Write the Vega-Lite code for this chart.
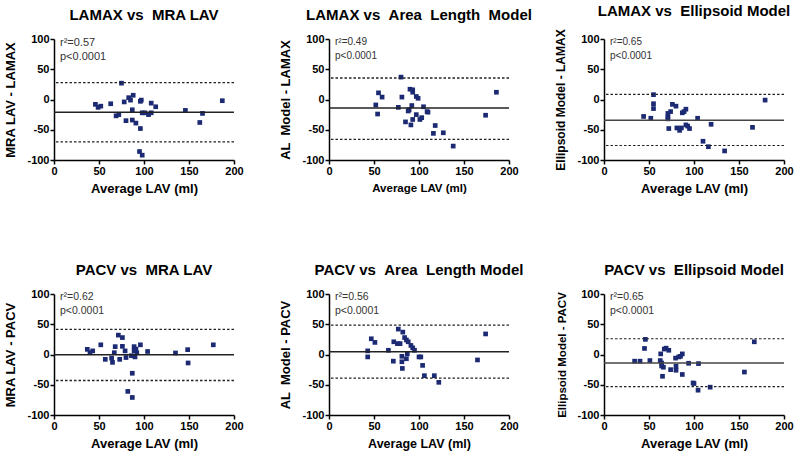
{
  "$schema": "https://vega.github.io/schema/vega-lite/v6.json",
  "padding": {"left": 4, "top": 3, "right": 5, "bottom": 5},
  "datasets": {
    "points": [
      {"p":1,"avg":46,"diff":-8},{"p":1,"avg":49,"diff":-13},{"p":1,"avg":52,"diff":-11},{"p":1,"avg":63,"diff":-7},{"p":1,"avg":69,"diff":-27},{"p":1,"avg":72,"diff":-25},{"p":1,"avg":75,"diff":27},{"p":1,"avg":78,"diff":-4},{"p":1,"avg":80,"diff":-35},{"p":1,"avg":83,"diff":3},{"p":1,"avg":85,"diff":-1},{"p":1,"avg":87,"diff":-34},{"p":1,"avg":87,"diff":-17},{"p":1,"avg":88,"diff":7},{"p":1,"avg":91,"diff":-39},{"p":1,"avg":96,"diff":-48},{"p":1,"avg":96,"diff":-3},{"p":1,"avg":97,"diff":-1},{"p":1,"avg":98,"diff":-22},{"p":1,"avg":95,"diff":-86},{"p":1,"avg":98,"diff":-92},{"p":1,"avg":101,"diff":-22},{"p":1,"avg":105,"diff":-25},{"p":1,"avg":108,"diff":-22},{"p":1,"avg":108,"diff":-6},{"p":1,"avg":113,"diff":-12},{"p":1,"avg":146,"diff":-18},{"p":1,"avg":162,"diff":-38},{"p":1,"avg":165,"diff":-23},{"p":1,"avg":187,"diff":-2},
      {"p":2,"avg":52,"diff":-9},{"p":2,"avg":54,"diff":-24},{"p":2,"avg":55,"diff":11},{"p":2,"avg":59,"diff":4},{"p":2,"avg":77,"diff":-13},{"p":2,"avg":80,"diff":37},{"p":2,"avg":81,"diff":4},{"p":2,"avg":85,"diff":-37},{"p":2,"avg":88,"diff":-19},{"p":2,"avg":89,"diff":-17},{"p":2,"avg":90,"diff":17},{"p":2,"avg":91,"diff":-42},{"p":2,"avg":92,"diff":-10},{"p":2,"avg":93,"diff":16},{"p":2,"avg":93,"diff":12},{"p":2,"avg":93,"diff":-33},{"p":2,"avg":97,"diff":-25},{"p":2,"avg":97,"diff":5},{"p":2,"avg":99,"diff":2},{"p":2,"avg":101,"diff":-33},{"p":2,"avg":103,"diff":-30},{"p":2,"avg":105,"diff":-12},{"p":2,"avg":109,"diff":-20},{"p":2,"avg":110,"diff":-21},{"p":2,"avg":118,"diff":-43},{"p":2,"avg":116,"diff":-56},{"p":2,"avg":127,"diff":-55},{"p":2,"avg":138,"diff":-77},{"p":2,"avg":174,"diff":-26},{"p":2,"avg":186,"diff":12},
      {"p":3,"avg":44,"diff":-28},{"p":3,"avg":52,"diff":-31},{"p":3,"avg":55,"diff":8},{"p":3,"avg":55,"diff":-7},{"p":3,"avg":55,"diff":-15},{"p":3,"avg":71,"diff":-23},{"p":3,"avg":71,"diff":-29},{"p":3,"avg":71,"diff":-32},{"p":3,"avg":72,"diff":-48},{"p":3,"avg":74,"diff":-20},{"p":3,"avg":76,"diff":-8},{"p":3,"avg":80,"diff":-11},{"p":3,"avg":81,"diff":-47},{"p":3,"avg":84,"diff":-51},{"p":3,"avg":86,"diff":-47},{"p":3,"avg":87,"diff":-22},{"p":3,"avg":89,"diff":-20},{"p":3,"avg":91,"diff":-16},{"p":3,"avg":91,"diff":-42},{"p":3,"avg":93,"diff":-44},{"p":3,"avg":95,"diff":-48},{"p":3,"avg":104,"diff":-31},{"p":3,"avg":119,"diff":-41},{"p":3,"avg":110,"diff":-69},{"p":3,"avg":116,"diff":-78},{"p":3,"avg":134,"diff":-85},{"p":3,"avg":165,"diff":-46},{"p":3,"avg":179,"diff":-1},
      {"p":4,"avg":37,"diff":8.5},{"p":4,"avg":40,"diff":3},{"p":4,"avg":43,"diff":6},{"p":4,"avg":52,"diff":16},{"p":4,"avg":57,"diff":-8},{"p":4,"avg":64,"diff":-6},{"p":4,"avg":65,"diff":-13},{"p":4,"avg":67,"diff":3},{"p":4,"avg":68,"diff":13},{"p":4,"avg":71.5,"diff":32},{"p":4,"avg":73,"diff":-8},{"p":4,"avg":76,"diff":28},{"p":4,"avg":76,"diff":13.5},{"p":4,"avg":79,"diff":6},{"p":4,"avg":80,"diff":-5},{"p":4,"avg":82,"diff":-61},{"p":4,"avg":86,"diff":-2},{"p":4,"avg":87,"diff":-71},{"p":4,"avg":87,"diff":-31},{"p":4,"avg":89,"diff":13},{"p":4,"avg":89,"diff":6},{"p":4,"avg":91,"diff":9},{"p":4,"avg":90,"diff":-4},{"p":4,"avg":92,"diff":3},{"p":4,"avg":96,"diff":16},{"p":4,"avg":104,"diff":5},{"p":4,"avg":135,"diff":2.5},{"p":4,"avg":148.5,"diff":8},{"p":4,"avg":149,"diff":-14},{"p":4,"avg":177,"diff":16},
      {"p":5,"avg":43,"diff":6},{"p":5,"avg":43,"diff":-4},{"p":5,"avg":47,"diff":26},{"p":5,"avg":51,"diff":20},{"p":5,"avg":66,"diff":7},{"p":5,"avg":71.5,"diff":-11},{"p":5,"avg":72,"diff":21},{"p":5,"avg":76,"diff":18},{"p":5,"avg":77,"diff":42},{"p":5,"avg":79,"diff":18},{"p":5,"avg":81,"diff":-3},{"p":5,"avg":81,"diff":-12},{"p":5,"avg":81.5,"diff":-23},{"p":5,"avg":82,"diff":37},{"p":5,"avg":84,"diff":28},{"p":5,"avg":86,"diff":24},{"p":5,"avg":86,"diff":-7},{"p":5,"avg":87,"diff":1},{"p":5,"avg":88,"diff":21},{"p":5,"avg":91,"diff":15},{"p":5,"avg":93,"diff":11},{"p":5,"avg":95,"diff":7},{"p":5,"avg":100,"diff":-4},{"p":5,"avg":102,"diff":-4},{"p":5,"avg":104,"diff":-18},{"p":5,"avg":106,"diff":-35},{"p":5,"avg":117,"diff":-35},{"p":5,"avg":122,"diff":-46},{"p":5,"avg":165,"diff":-9},{"p":5,"avg":174,"diff":34},
      {"p":6,"avg":34,"diff":-11},{"p":6,"avg":40,"diff":-11},{"p":6,"avg":45,"diff":10},{"p":6,"avg":46,"diff":25},{"p":6,"avg":51,"diff":-10},{"p":6,"avg":62.5,"diff":-10},{"p":6,"avg":63,"diff":1},{"p":6,"avg":64,"diff":-14},{"p":6,"avg":64,"diff":-19},{"p":6,"avg":65,"diff":-36},{"p":6,"avg":66,"diff":-21},{"p":6,"avg":67,"diff":9},{"p":6,"avg":69,"diff":10.5},{"p":6,"avg":72,"diff":7},{"p":6,"avg":74,"diff":-25},{"p":6,"avg":79.5,"diff":-6},{"p":6,"avg":80,"diff":-19.5},{"p":6,"avg":80,"diff":-26},{"p":6,"avg":83,"diff":-4},{"p":6,"avg":85,"diff":-3},{"p":6,"avg":87,"diff":1},{"p":6,"avg":87,"diff":-33},{"p":6,"avg":94,"diff":-14.5},{"p":6,"avg":99,"diff":-47},{"p":6,"avg":100,"diff":-48},{"p":6,"avg":104.5,"diff":-59},{"p":6,"avg":105,"diff":-15},{"p":6,"avg":118,"diff":-54},{"p":6,"avg":156,"diff":-29},{"p":6,"avg":167,"diff":21}
    ],
    "lines": [
      {"p":1,"kind":"bias","v":-21},{"p":1,"kind":"limit","v":28},{"p":1,"kind":"limit","v":-70},
      {"p":2,"kind":"bias","v":-14},{"p":2,"kind":"limit","v":35.5},{"p":2,"kind":"limit","v":-66},
      {"p":3,"kind":"bias","v":-34.5},{"p":3,"kind":"limit","v":8.5},{"p":3,"kind":"limit","v":-76},
      {"p":4,"kind":"bias","v":-0.5},{"p":4,"kind":"limit","v":41.5},{"p":4,"kind":"limit","v":-43},
      {"p":5,"kind":"bias","v":4.7},{"p":5,"kind":"limit","v":48.5},{"p":5,"kind":"limit","v":-39},
      {"p":6,"kind":"bias","v":-14},{"p":6,"kind":"limit","v":26},{"p":6,"kind":"limit","v":-53}
    ],
    "stats": [
      {"p":1,"label":"r²=0.57\np<0.0001"},
      {"p":2,"label":"r²=0.49\np<0.0001"},
      {"p":3,"label":"r²=0.65\np<0.0001"},
      {"p":4,"label":"r²=0.62\np<0.0001"},
      {"p":5,"label":"r²=0.56\np<0.0001"},
      {"p":6,"label":"r²=0.65\np<0.0001"}
    ]
  },
  "columns": 3,
  "bounds": "flush",
  "spacing": {"row": 134, "column": 95},
  "concat": [
    {
      "title": "LAMAX vs \u00a0MRA LAV",
      "width": 180, "height": 121,
      "layer": [
        {"data": {"name": "points"}, "transform": [{"filter": "datum.p === 1"}],
         "mark": {"type": "square", "size": 22, "color": "#1c2a73", "opacity": 1},
         "encoding": {
           "x": {"field": "avg", "type": "quantitative", "scale": {"domain": [0, 200], "nice": false}, "axis": {"title": "Average LAV (ml)", "values": [0, 50, 100, 150, 200]}},
           "y": {"field": "diff", "type": "quantitative", "scale": {"domain": [-100, 100], "nice": false}, "axis": {"title": "MRA LAV - LAMAX", "values": [-100, -50, 0, 50, 100]}}}},
        {"data": {"name": "lines"}, "transform": [{"filter": "datum.p === 1 && datum.kind === 'bias'"}],
         "mark": {"type": "rule", "color": "#222", "strokeWidth": 1.5}, "encoding": {"y": {"field": "v", "type": "quantitative"}}},
        {"data": {"name": "lines"}, "transform": [{"filter": "datum.p === 1 && datum.kind === 'limit'"}],
         "mark": {"type": "rule", "color": "#222", "strokeWidth": 1.3, "strokeDash": [2.5, 2]}, "encoding": {"y": {"field": "v", "type": "quantitative"}}},
        {"data": {"name": "stats"}, "transform": [{"filter": "datum.p === 1"}],
         "mark": {"type": "text", "align": "left", "baseline": "top", "dx": 6, "dy": -2, "fontSize": 11, "lineBreak": "\n", "lineHeight": 14, "color": "#333"},
         "encoding": {"x": {"datum": 0}, "y": {"datum": 100}, "text": {"field": "label"}}}
      ]
    },
    {
      "title": "LAMAX vs \u00a0Area \u00a0Length \u00a0Model",
      "width": 180, "height": 121,
      "layer": [
        {"data": {"name": "points"}, "transform": [{"filter": "datum.p === 2"}],
         "mark": {"type": "square", "size": 22, "color": "#1c2a73", "opacity": 1},
         "encoding": {
           "x": {"field": "avg", "type": "quantitative", "scale": {"domain": [0, 200], "nice": false}, "axis": {"title": "Average LAV (ml)", "titleFontSize": 11.5, "values": [0, 50, 100, 150, 200]}},
           "y": {"field": "diff", "type": "quantitative", "scale": {"domain": [-100, 100], "nice": false}, "axis": {"title": "AL \u00a0Model - LAMAX", "values": [-100, -50, 0, 50, 100]}}}},
        {"data": {"name": "lines"}, "transform": [{"filter": "datum.p === 2 && datum.kind === 'bias'"}],
         "mark": {"type": "rule", "color": "#222", "strokeWidth": 1.5}, "encoding": {"y": {"field": "v", "type": "quantitative"}}},
        {"data": {"name": "lines"}, "transform": [{"filter": "datum.p === 2 && datum.kind === 'limit'"}],
         "mark": {"type": "rule", "color": "#222", "strokeWidth": 1.3, "strokeDash": [2.5, 2]}, "encoding": {"y": {"field": "v", "type": "quantitative"}}},
        {"data": {"name": "stats"}, "transform": [{"filter": "datum.p === 2"}],
         "mark": {"type": "text", "align": "left", "baseline": "top", "dx": 6, "dy": -2, "fontSize": 10, "lineBreak": "\n", "lineHeight": 14, "color": "#333"},
         "encoding": {"x": {"datum": 0}, "y": {"datum": 100}, "text": {"field": "label"}}}
      ]
    },
    {
      "title": "LAMAX vs \u00a0Ellipsoid Model",
      "width": 180, "height": 121,
      "layer": [
        {"data": {"name": "points"}, "transform": [{"filter": "datum.p === 3"}],
         "mark": {"type": "square", "size": 22, "color": "#1c2a73", "opacity": 1},
         "encoding": {
           "x": {"field": "avg", "type": "quantitative", "scale": {"domain": [0, 200], "nice": false}, "axis": {"title": "Average LAV (ml)", "values": [0, 50, 100, 150, 200]}},
           "y": {"field": "diff", "type": "quantitative", "scale": {"domain": [-100, 100], "nice": false}, "axis": {"title": "Ellipsoid Model - LAMAX", "titleFontSize": 12, "values": [-100, -50, 0, 50, 100]}}}},
        {"data": {"name": "lines"}, "transform": [{"filter": "datum.p === 3 && datum.kind === 'bias'"}],
         "mark": {"type": "rule", "color": "#444", "strokeWidth": 1.5}, "encoding": {"y": {"field": "v", "type": "quantitative"}}},
        {"data": {"name": "lines"}, "transform": [{"filter": "datum.p === 3 && datum.kind === 'limit'"}],
         "mark": {"type": "rule", "color": "#222", "strokeWidth": 1.2, "strokeDash": [2.5, 2]}, "encoding": {"y": {"field": "v", "type": "quantitative"}}},
        {"data": {"name": "stats"}, "transform": [{"filter": "datum.p === 3"}],
         "mark": {"type": "text", "align": "left", "baseline": "top", "dx": 6, "dy": -2, "fontSize": 10, "lineBreak": "\n", "lineHeight": 14, "color": "#333"},
         "encoding": {"x": {"datum": 0}, "y": {"datum": 100}, "text": {"field": "label"}}}
      ]
    },
    {
      "title": "PACV vs \u00a0MRA LAV",
      "width": 180, "height": 121,
      "layer": [
        {"data": {"name": "points"}, "transform": [{"filter": "datum.p === 4"}],
         "mark": {"type": "square", "size": 22, "color": "#1c2a73", "opacity": 1},
         "encoding": {
           "x": {"field": "avg", "type": "quantitative", "scale": {"domain": [0, 200], "nice": false}, "axis": {"title": "Average LAV (ml)", "values": [0, 50, 100, 150, 200]}},
           "y": {"field": "diff", "type": "quantitative", "scale": {"domain": [-100, 100], "nice": false}, "axis": {"title": "MRA LAV - PACV", "values": [-100, -50, 0, 50, 100]}}}},
        {"data": {"name": "lines"}, "transform": [{"filter": "datum.p === 4 && datum.kind === 'bias'"}],
         "mark": {"type": "rule", "color": "#222", "strokeWidth": 1.5}, "encoding": {"y": {"field": "v", "type": "quantitative"}}},
        {"data": {"name": "lines"}, "transform": [{"filter": "datum.p === 4 && datum.kind === 'limit'"}],
         "mark": {"type": "rule", "color": "#222", "strokeWidth": 1.3, "strokeDash": [2.5, 2]}, "encoding": {"y": {"field": "v", "type": "quantitative"}}},
        {"data": {"name": "stats"}, "transform": [{"filter": "datum.p === 4"}],
         "mark": {"type": "text", "align": "left", "baseline": "top", "dx": 6, "dy": -2, "fontSize": 10.5, "lineBreak": "\n", "lineHeight": 14, "color": "#333"},
         "encoding": {"x": {"datum": 0}, "y": {"datum": 100}, "text": {"field": "label"}}}
      ]
    },
    {
      "title": "PACV vs \u00a0Area \u00a0Length Model",
      "width": 180, "height": 121,
      "layer": [
        {"data": {"name": "points"}, "transform": [{"filter": "datum.p === 5"}],
         "mark": {"type": "square", "size": 22, "color": "#1c2a73", "opacity": 1},
         "encoding": {
           "x": {"field": "avg", "type": "quantitative", "scale": {"domain": [0, 200], "nice": false}, "axis": {"title": "Average LAV (ml)", "titleFontSize": 12.5, "values": [0, 50, 100, 150, 200]}},
           "y": {"field": "diff", "type": "quantitative", "scale": {"domain": [-100, 100], "nice": false}, "axis": {"title": "AL \u00a0Model - PACV", "values": [-100, -50, 0, 50, 100]}}}},
        {"data": {"name": "lines"}, "transform": [{"filter": "datum.p === 5 && datum.kind === 'bias'"}],
         "mark": {"type": "rule", "color": "#222", "strokeWidth": 1.5}, "encoding": {"y": {"field": "v", "type": "quantitative"}}},
        {"data": {"name": "lines"}, "transform": [{"filter": "datum.p === 5 && datum.kind === 'limit'"}],
         "mark": {"type": "rule", "color": "#222", "strokeWidth": 1.3, "strokeDash": [2.5, 2]}, "encoding": {"y": {"field": "v", "type": "quantitative"}}},
        {"data": {"name": "stats"}, "transform": [{"filter": "datum.p === 5"}],
         "mark": {"type": "text", "align": "left", "baseline": "top", "dx": 6, "dy": -2, "fontSize": 10.5, "lineBreak": "\n", "lineHeight": 14, "color": "#333"},
         "encoding": {"x": {"datum": 0}, "y": {"datum": 100}, "text": {"field": "label"}}}
      ]
    },
    {
      "title": "PACV vs \u00a0Ellipsoid Model",
      "width": 180, "height": 121,
      "layer": [
        {"data": {"name": "points"}, "transform": [{"filter": "datum.p === 6"}],
         "mark": {"type": "square", "size": 22, "color": "#1c2a73", "opacity": 1},
         "encoding": {
           "x": {"field": "avg", "type": "quantitative", "scale": {"domain": [0, 200], "nice": false}, "axis": {"title": "Average LAV (ml)", "values": [0, 50, 100, 150, 200]}},
           "y": {"field": "diff", "type": "quantitative", "scale": {"domain": [-100, 100], "nice": false}, "axis": {"title": "Ellipsoid Model - PACV", "titleFontSize": 11.5, "values": [-100, -50, 0, 50, 100]}}}},
        {"data": {"name": "lines"}, "transform": [{"filter": "datum.p === 6 && datum.kind === 'bias'"}],
         "mark": {"type": "rule", "color": "#444", "strokeWidth": 1.5}, "encoding": {"y": {"field": "v", "type": "quantitative"}}},
        {"data": {"name": "lines"}, "transform": [{"filter": "datum.p === 6 && datum.kind === 'limit'"}],
         "mark": {"type": "rule", "color": "#222", "strokeWidth": 1.2, "strokeDash": [2.5, 2]}, "encoding": {"y": {"field": "v", "type": "quantitative"}}},
        {"data": {"name": "stats"}, "transform": [{"filter": "datum.p === 6"}],
         "mark": {"type": "text", "align": "left", "baseline": "top", "dx": 6, "dy": -2, "fontSize": 10.5, "lineBreak": "\n", "lineHeight": 14, "color": "#333"},
         "encoding": {"x": {"datum": 0}, "y": {"datum": 100}, "text": {"field": "label"}}}
      ]
    }
  ],
  "config": {
    "view": {"stroke": null},
    "font": "Liberation Sans",
    "title": {"font": "Liberation Sans", "fontSize": 15, "fontWeight": "bold", "color": "black", "anchor": "middle", "offset": 10},
    "text": {"font": "Liberation Sans"},
    "axis": {
      "grid": false, "domainColor": "black", "domainWidth": 1.5, "tickColor": "black", "tickWidth": 1.5, "tickSize": 4,
      "labelFont": "Liberation Sans", "labelFontSize": 11, "labelFontWeight": "bold", "labelColor": "black", "labelPadding": 1,
      "labelFlush": false, "labelOverlap": false, "tickCount": 5,
      "titleFont": "Liberation Sans", "titleFontSize": 13, "titleFontWeight": "bold", "titleColor": "black"
    },
    "axisX": {"titlePadding": 6, "minExtent": 16, "maxExtent": 16},
    "axisY": {"titlePadding": 7, "minExtent": 30, "maxExtent": 30, "tickCount": 5, "labelExpr": "toString(datum.value)"}
  }
}
